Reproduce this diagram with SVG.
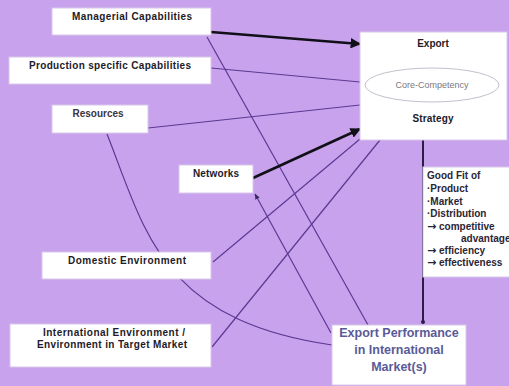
<svg xmlns="http://www.w3.org/2000/svg" width="509" height="386" viewBox="0 0 509 386">
  <style>
    .box { fill: #ffffff; stroke: #d8c8ea; stroke-width: 1; }
    .lbl { font-family: "Liberation Sans", Arial, sans-serif; font-weight: bold; font-size: 10px; fill: #1e1a28; text-anchor: middle; }
    .side { font-family: "Liberation Sans", Arial, sans-serif; font-weight: bold; font-size: 10px; fill: #2a2535; }
    .arr { font-family: "DejaVu Sans", sans-serif; font-weight: bold; font-size: 11px; }
    .perf { font-family: "Liberation Sans", Arial, sans-serif; font-weight: bold; font-size: 12.5px; fill: #5a5a98; text-anchor: middle; }
    .thin { fill: none; stroke: #5b3a92; stroke-width: 1.2; }
    .thick { fill: none; stroke: #111018; stroke-width: 2.6; }
    .link { fill: none; stroke: #2a1e48; stroke-width: 2; }
  </style>
  <defs>
    <marker id="ah" viewBox="0 0 10 10" refX="9" refY="5" markerWidth="4" markerHeight="4" orient="auto">
      <path d="M0,0 L10,5 L0,10 z" fill="#111018"/>
    </marker>
    <marker id="ahs" viewBox="0 0 10 10" refX="9" refY="5" markerWidth="5" markerHeight="5" orient="auto">
      <path d="M0,1 L10,5 L0,9 z" fill="#3a2a60"/>
    </marker>
  </defs>

  <rect x="0" y="0" width="509" height="386" fill="#c9a2ee"/>

  <g id="connectors">
    <!-- thin influences -->
    <line class="thin" x1="211" y1="68" x2="360" y2="82"/>
    <line class="thin" x1="148" y1="128" x2="360" y2="105"/>
    <line class="thin" x1="213" y1="262" x2="360" y2="139"/>
    <line class="thin" x1="212" y1="347" x2="380" y2="140"/>
    <line class="thin" x1="207" y1="37" x2="368" y2="325"/>
    <line class="thin" x1="331" y1="333" x2="255" y2="194" marker-end="url(#ahs)"/>
    <path class="thin" d="M107,134 C145,230 160,320 332,345"/>
    <!-- strong influences -->
    <line class="thick" x1="211" y1="32" x2="360" y2="44" marker-end="url(#ah)"/>
    <line class="thick" x1="253" y1="178" x2="360" y2="129" marker-end="url(#ah)"/>
    <!-- strategy to performance -->
    <line class="link" x1="423" y1="140" x2="423" y2="323"/>
    <circle cx="423" cy="322" r="2" fill="#2a1e48"/>
  </g>

  <g id="managerial">
    <rect class="box" x="52" y="8" width="159" height="27"/>
    <text class="lbl" x="132" y="20" textLength="120">Managerial Capabilities</text>
  </g>

  <g id="production">
    <rect class="box" x="9" y="57" width="202" height="27"/>
    <text class="lbl" x="110" y="69" textLength="162">Production specific Capabilities</text>
  </g>

  <g id="resources">
    <rect class="box" x="52" y="105" width="96" height="28"/>
    <text class="lbl" x="98" y="117" style="fill:#3a3640">Resources</text>
  </g>

  <g id="networks">
    <rect class="box" x="179" y="165" width="74" height="28"/>
    <text class="lbl" x="216" y="177" textLength="46">Networks</text>
  </g>

  <g id="domestic">
    <rect class="box" x="42" y="252" width="169" height="27"/>
    <text class="lbl" x="127" y="264" textLength="118">Domestic Environment</text>
  </g>

  <g id="international">
    <rect class="box" x="10" y="324" width="201" height="43"/>
    <text class="lbl" x="114" y="336" textLength="142">International Environment /</text>
    <text class="lbl" x="112" y="348" textLength="150">Environment in Target Market</text>
  </g>

  <g id="strategy">
    <rect class="box" x="360" y="32" width="147" height="108"/>
    <text class="lbl" x="433" y="47">Export</text>
    <ellipse cx="432" cy="85" rx="67" ry="17" fill="#ffffff" stroke="#c4c0cc" stroke-width="1"/>
    <text x="432" y="88" font-family="Liberation Sans, Arial, sans-serif" font-size="9px" fill="#7a7880" text-anchor="middle">Core-Competency</text>
    <text class="lbl" x="433" y="122" textLength="41">Strategy</text>
  </g>

  <g id="goodfit">
    <rect class="box" x="423" y="167" width="90" height="110"/>
    <text class="side" x="427" y="179">Good Fit of</text>
    <text class="side" x="427" y="192" font-weight="normal">·Product</text>
    <text class="side" x="427" y="205">·Market</text>
    <text class="side" x="427" y="217" font-weight="normal">·Distribution</text>
    <text class="side" x="427" y="230"><tspan class="arr">→</tspan> competitive</text>
    <text class="side" x="461" y="242">advantage</text>
    <text class="side" x="427" y="254"><tspan class="arr">→</tspan> efficiency</text>
    <text class="side" x="427" y="266"><tspan class="arr">→</tspan> effectiveness</text>
  </g>

  <g id="performance">
    <rect class="box" x="332" y="325" width="134" height="60"/>
    <text class="perf" x="399" y="337">Export Performance</text>
    <text class="perf" x="399" y="354">in International</text>
    <text class="perf" x="399" y="371">Market(s)</text>
  </g>
</svg>
